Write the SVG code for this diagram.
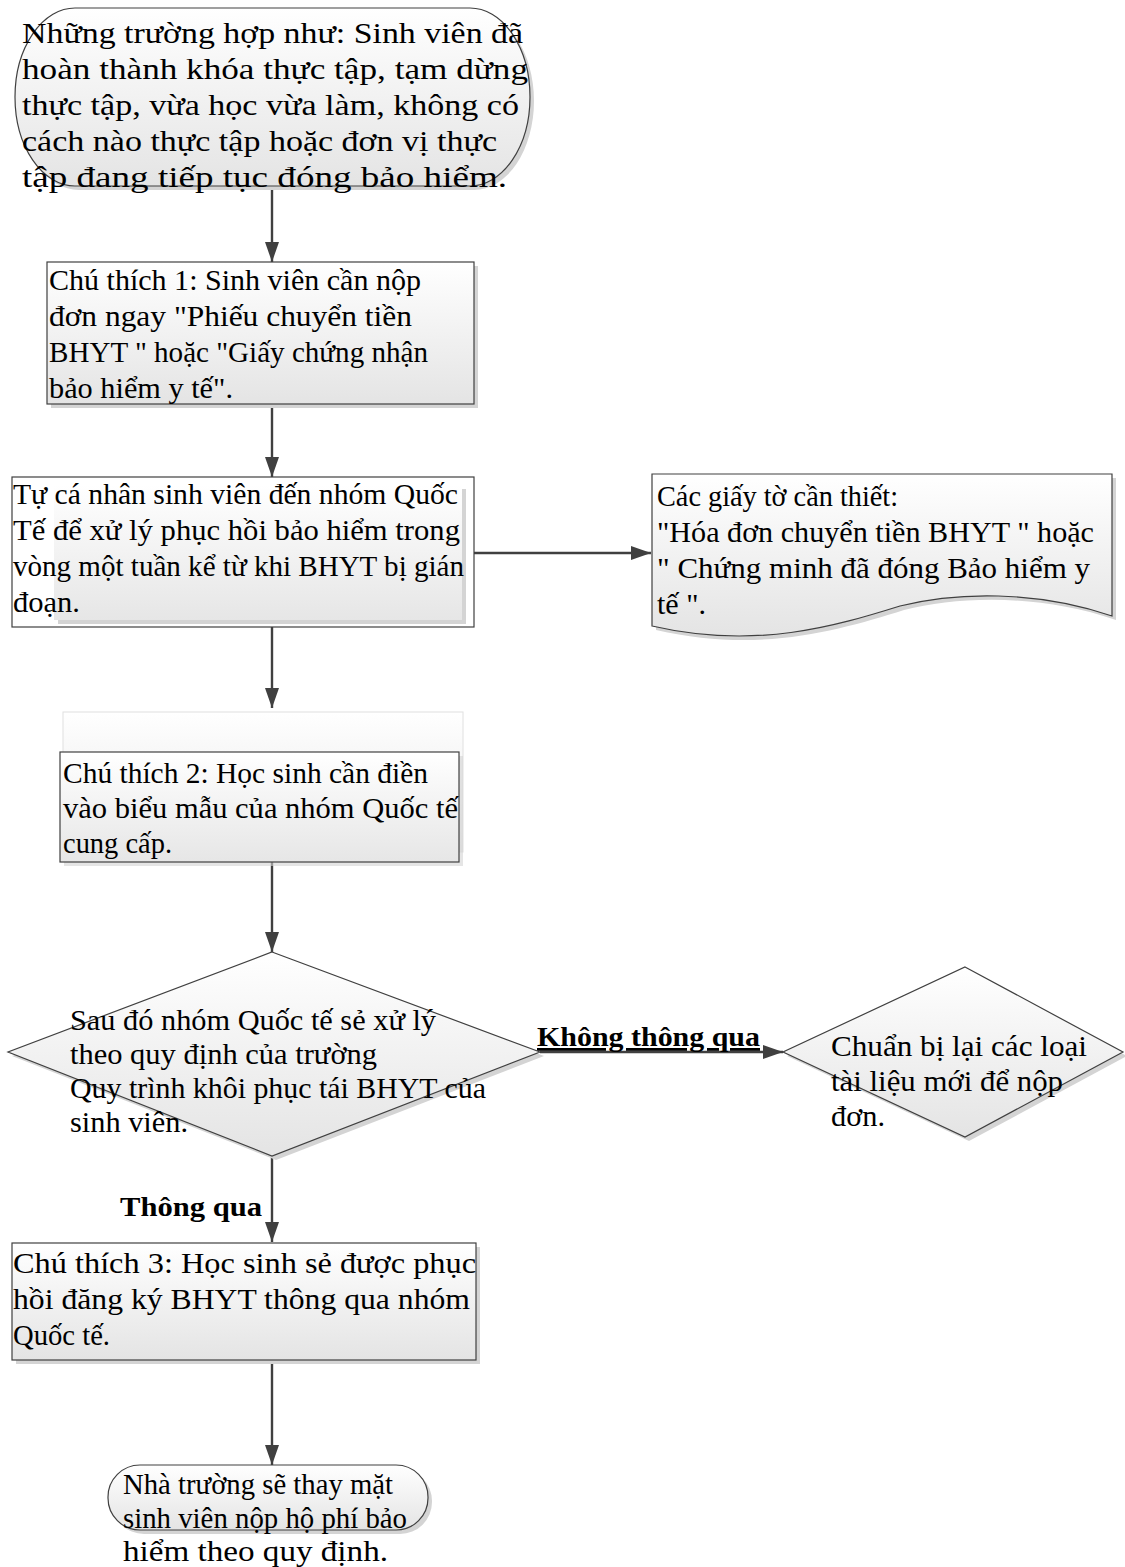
<svg xmlns="http://www.w3.org/2000/svg" width="1125" height="1567" viewBox="0 0 1125 1567">
<style>
  .t { font-family: "Liberation Serif", "DejaVu Serif", serif; font-size: 30px; fill: #000; }
  .b { font-family: "Liberation Serif", "DejaVu Serif", serif; font-size: 28px; font-weight: bold; fill: #000; }
  .sh { fill: #d4d4d4; }
  .shape { fill: url(#grad); stroke: #404040; stroke-width: 1.2; }
  .outline { fill: none; stroke: #404040; stroke-width: 1.2; }
  .conn { stroke: #404040; stroke-width: 2.4; fill: none; marker-end: url(#arrow); }
</style>
<defs>
  <linearGradient id="grad" x1="0" y1="0" x2="0" y2="1">
    <stop offset="0" stop-color="#ffffff"/>
    <stop offset="1" stop-color="#e4e4e4"/>
  </linearGradient>
  <linearGradient id="faint" x1="0" y1="0" x2="0" y2="1">
    <stop offset="0" stop-color="#ffffff"/>
    <stop offset="1" stop-color="#e6e6e6"/>
  </linearGradient>
  <marker id="arrow" viewBox="0 0 20 14" refX="20" refY="7" markerWidth="20" markerHeight="14" markerUnits="userSpaceOnUse" orient="auto">
    <path d="M0,0 L20,7 L0,14 z" fill="#404040"/>
  </marker>
</defs>
<rect width="1125" height="1567" fill="#ffffff"/>

<g id="connectors">
  <line class="conn" x1="272" y1="186" x2="272" y2="262"/>
  <line class="conn" x1="272" y1="404" x2="272" y2="477"/>
  <line class="conn" x1="272" y1="627" x2="272" y2="708"/>
  <line class="conn" x1="462" y1="553" x2="651" y2="553"/>
  <line class="conn" x1="272" y1="862" x2="272" y2="952"/>
  <line class="conn" x1="540" y1="1052" x2="783" y2="1052"/>
  <line class="conn" x1="272" y1="1156" x2="272" y2="1242"/>
  <line class="conn" x1="272" y1="1360" x2="272" y2="1465"/>
  <text class="b" x="537" y="1046" textLength="223" lengthAdjust="spacingAndGlyphs" text-decoration="underline">Không thông qua</text>
  <text class="b" x="120" y="1216" textLength="142" lengthAdjust="spacingAndGlyphs">Thông qua</text>
</g>

<g id="start">
  <rect class="sh" x="19" y="12" width="515" height="178" rx="60" ry="89"/>
  <rect class="shape" x="15" y="8" width="515" height="178" rx="60" ry="89"/>
  <text class="t" x="22" y="43" textLength="501" lengthAdjust="spacingAndGlyphs">Những trường hợp như: Sinh viên đã</text>
  <text class="t" x="22" y="79" textLength="506" lengthAdjust="spacingAndGlyphs">hoàn thành khóa thực tập, tạm dừng</text>
  <text class="t" x="22" y="115" textLength="497" lengthAdjust="spacingAndGlyphs">thực tập, vừa học vừa làm, không có</text>
  <text class="t" x="22" y="151" textLength="475" lengthAdjust="spacingAndGlyphs">cách nào thực tập hoặc đơn vị thực</text>
  <text class="t" x="22" y="187" textLength="485" lengthAdjust="spacingAndGlyphs">tập đang tiếp tục đóng bảo hiểm.</text>
</g>

<g id="note1">
  <rect class="sh" x="51" y="266" width="427" height="142"/>
  <rect class="shape" x="47" y="262" width="427" height="142"/>
  <text class="t" x="49" y="290" textLength="372" lengthAdjust="spacingAndGlyphs">Chú thích 1: Sinh viên cần nộp</text>
  <text class="t" x="49" y="326" textLength="363" lengthAdjust="spacingAndGlyphs">đơn ngay  "Phiếu chuyển tiền</text>
  <text class="t" x="49" y="362" textLength="379" lengthAdjust="spacingAndGlyphs">BHYT " hoặc "Giấy chứng nhận</text>
  <text class="t" x="49" y="398" textLength="184" lengthAdjust="spacingAndGlyphs">bảo hiểm y tế".</text>
</g>

<g id="self-process">
  <rect x="12" y="477" width="462" height="150" fill="#ffffff"/>
  <rect class="sh" x="58" y="489" width="408" height="135"/>
  <rect x="54" y="485" width="408" height="135" fill="url(#faint)"/>
  <rect class="outline" x="12" y="477" width="462" height="150"/>
  <text class="t" x="13" y="504" textLength="445" lengthAdjust="spacingAndGlyphs">Tự cá nhân sinh viên đến nhóm Quốc</text>
  <text class="t" x="13" y="540" textLength="447" lengthAdjust="spacingAndGlyphs">Tế để xử lý phục hồi bảo hiểm trong</text>
  <text class="t" x="13" y="576" textLength="451" lengthAdjust="spacingAndGlyphs">vòng một tuần kể từ khi BHYT bị gián</text>
  <text class="t" x="13" y="612" textLength="67" lengthAdjust="spacingAndGlyphs">đoạn.</text>
</g>

<g id="documents">
  <path class="sh" d="M656,478 H1116 V620 C1040,594 960,596 904,610 C840,630 760,654 656,630 Z"/>
  <path class="shape" d="M652,474 H1112 V616 C1036,590 956,592 900,606 C836,626 756,650 652,626 Z"/>
  <text class="t" x="657" y="506" textLength="241" lengthAdjust="spacingAndGlyphs">Các giấy tờ cần thiết:</text>
  <text class="t" x="657" y="542" textLength="437" lengthAdjust="spacingAndGlyphs">"Hóa đơn chuyển tiền BHYT " hoặc</text>
  <text class="t" x="657" y="578" textLength="433" lengthAdjust="spacingAndGlyphs">" Chứng minh đã đóng Bảo hiểm y</text>
  <text class="t" x="657" y="614" textLength="49" lengthAdjust="spacingAndGlyphs">tế ".</text>
</g>

<g id="note2">
  <rect x="63" y="712" width="400" height="140" fill="url(#faint)" stroke="#e0e0e0" stroke-width="1"/>
  <rect class="sh" x="64" y="756" width="399" height="110" opacity="0.6"/>
  <rect x="60" y="752" width="399" height="110" fill="url(#faint)"/>
  <rect class="outline" x="60" y="752" width="399" height="110"/>
  <text class="t" x="63" y="783" textLength="365" lengthAdjust="spacingAndGlyphs">Chú thích 2: Học sinh cần điền</text>
  <text class="t" x="63" y="818" textLength="395" lengthAdjust="spacingAndGlyphs">vào biểu mẫu của nhóm Quốc tế</text>
  <text class="t" x="63" y="853" textLength="109" lengthAdjust="spacingAndGlyphs">cung cấp.</text>
</g>

<g id="decision">
  <polygon class="sh" points="276,956 544,1056 276,1160 12,1056"/>
  <polygon class="shape" points="272,952 540,1052 272,1156 8,1052"/>
  <text class="t" x="70" y="1030" textLength="366" lengthAdjust="spacingAndGlyphs">Sau đó nhóm Quốc tế sẻ xử lý</text>
  <text class="t" x="70" y="1064" textLength="307" lengthAdjust="spacingAndGlyphs">theo quy định của trường</text>
  <text class="t" x="70" y="1098" textLength="416" lengthAdjust="spacingAndGlyphs">Quy trình khôi phục tái BHYT của</text>
  <text class="t" x="70" y="1132" textLength="118" lengthAdjust="spacingAndGlyphs">sinh viên.</text>
</g>

<g id="resubmit">
  <polygon class="sh" points="969,971 1127,1056 969,1141 787,1056"/>
  <polygon class="shape" points="965,967 1123,1052 965,1137 783,1052"/>
  <text class="t" x="831" y="1056" textLength="256" lengthAdjust="spacingAndGlyphs">Chuẩn bị lại các loại</text>
  <text class="t" x="831" y="1091" textLength="232" lengthAdjust="spacingAndGlyphs">tài liệu mới để nộp</text>
  <text class="t" x="831" y="1126" textLength="54" lengthAdjust="spacingAndGlyphs">đơn.</text>
</g>

<g id="note3">
  <rect class="sh" x="16" y="1247" width="464" height="117"/>
  <rect class="shape" x="12" y="1243" width="464" height="117"/>
  <text class="t" x="13" y="1273" textLength="463" lengthAdjust="spacingAndGlyphs">Chú thích 3: Học sinh sẻ được phục</text>
  <text class="t" x="13" y="1309" textLength="457" lengthAdjust="spacingAndGlyphs">hồi đăng ký BHYT thông qua nhóm</text>
  <text class="t" x="13" y="1345" textLength="97" lengthAdjust="spacingAndGlyphs">Quốc tế.</text>
</g>

<g id="end">
  <rect class="sh" x="112" y="1469" width="320" height="65" rx="32" ry="32"/>
  <rect class="shape" x="108" y="1465" width="320" height="65" rx="32" ry="32"/>
  <text class="t" x="123" y="1494" textLength="270" lengthAdjust="spacingAndGlyphs">Nhà trường sẽ thay mặt</text>
  <text class="t" x="123" y="1528" textLength="284" lengthAdjust="spacingAndGlyphs">sinh viên nộp hộ phí bảo</text>
  <text class="t" x="123" y="1561" textLength="265" lengthAdjust="spacingAndGlyphs">hiểm theo quy định.</text>
</g>
</svg>
